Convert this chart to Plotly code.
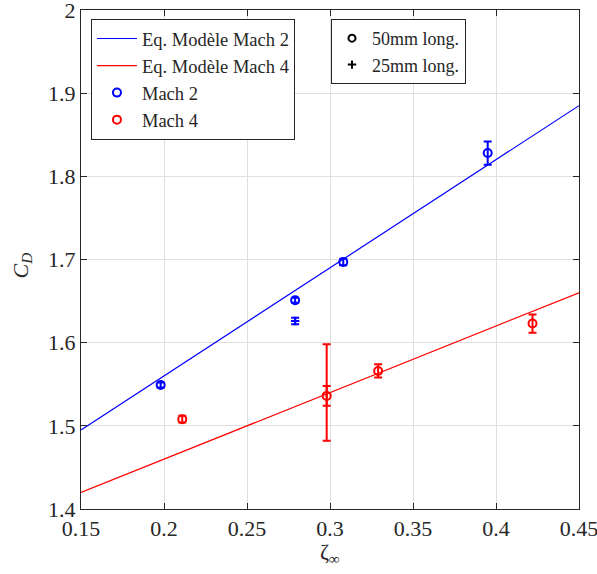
import plotly.graph_objects as go

# Model lines
line_x = [0.15, 0.45]
model_m2 = [1.495, 1.885]
model_m4 = [1.420, 1.660]

# Mach 2 data (50mm long.)
m2_x = [0.198, 0.279, 0.308, 0.395]
m2_y = [1.549, 1.651, 1.697, 1.828]
m2_err = [0.003, 0.003, 0.004, 0.014]
# Mach 2 data (25mm long.)
m2b_x = [0.279]
m2b_y = [1.626]
m2b_err = [0.004]

# Mach 4 data (50mm long.)
m4_x = [0.211, 0.298, 0.329, 0.422]
m4_y = [1.508, 1.536, 1.566, 1.623]
m4_err = [0.004, 0.012, 0.008, 0.011]
# Mach 4 additional large-error point at same location
m4b_x = [0.298]
m4b_y = [1.540]
m4b_err = [0.058]

x_ticks = [0.15, 0.2, 0.25, 0.3, 0.35, 0.4, 0.45]
y_ticks = [1.4, 1.5, 1.6, 1.7, 1.8, 1.9, 2.0]

BLUE = "#0000ff"
RED = "#ff0000"
FONT = "Liberation Serif"
INK = "#262626"

fig = go.Figure()
fig.add_trace(go.Scatter(x=line_x, y=model_m2, mode="lines", line=dict(color=BLUE, width=1.2),
                         name="Eq. Modèle Mach 2", legend="legend"))
fig.add_trace(go.Scatter(x=line_x, y=model_m4, mode="lines", line=dict(color=RED, width=1.2),
                         name="Eq. Modèle Mach 4", legend="legend"))
fig.add_trace(go.Scatter(x=m4b_x, y=m4b_y, mode="markers",
                         marker=dict(symbol="circle-open", size=1, color=RED),
                         error_y=dict(type="data", array=m4b_err, color=RED, thickness=2, width=4),
                         showlegend=False))
fig.add_trace(go.Scatter(x=m2_x, y=m2_y, mode="markers",
                         marker=dict(symbol="circle-open", size=8, color=BLUE, line=dict(width=2)),
                         error_y=dict(type="data", array=m2_err, color=BLUE, thickness=2, width=4),
                         name="Mach 2", legend="legend"))
fig.add_trace(go.Scatter(x=m2b_x, y=m2b_y, mode="markers",
                         marker=dict(symbol="cross-thin-open", size=6, color=BLUE, line=dict(width=2, color=BLUE)),
                         error_y=dict(type="data", array=m2b_err, color=BLUE, thickness=2, width=4),
                         showlegend=False))
fig.add_trace(go.Scatter(x=m4_x, y=m4_y, mode="markers",
                         marker=dict(symbol="circle-open", size=8, color=RED, line=dict(width=2)),
                         error_y=dict(type="data", array=m4_err, color=RED, thickness=2, width=4),
                         name="Mach 4", legend="legend"))
# Second legend: marker shapes
fig.add_trace(go.Scatter(x=[None], y=[None], mode="markers",
                         marker=dict(symbol="circle-open", size=7, color="black", line=dict(width=2)),
                         name="50mm long.", legend="legend2"))
fig.add_trace(go.Scatter(x=[None], y=[None], mode="markers",
                         marker=dict(symbol="cross-thin-open", size=6, color="black", line=dict(width=2, color="black")),
                         name="25mm long.", legend="legend2"))

fig.update_layout(
    width=597, height=574,
    margin=dict(l=81, r=18, t=10, b=65),
    paper_bgcolor="white", plot_bgcolor="white",
    font=dict(family=FONT, color=INK, size=19),
    legend=dict(x=0.02, y=0.982, xanchor="left", yanchor="top", bgcolor="white",
                bordercolor=INK, borderwidth=1, font=dict(family=FONT, size=18.5, color=INK),
                tracegroupgap=0, itemwidth=40),
    legend2=dict(x=0.502, y=0.982, xanchor="left", yanchor="top", bgcolor="white",
                 bordercolor=INK, borderwidth=1, font=dict(family=FONT, size=18, color=INK),
                 itemwidth=30),
    annotations=[
        dict(text="ζ<sub>∞</sub>", xref="paper", yref="paper", x=0.5, y=0,
             xanchor="center", yanchor="middle", yshift=-44, showarrow=False,
             font=dict(family=FONT, size=22, color=INK)),
        dict(text="<i>C<sub>D</sub></i>", xref="paper", yref="paper", x=0, y=0.5,
             xanchor="center", yanchor="middle", xshift=-60, yshift=-6, textangle=-90,
             showarrow=False, font=dict(family=FONT, size=22, color=INK)),
    ],
)
for upd, ticks in ((fig.update_xaxes, x_ticks), (fig.update_yaxes, y_ticks)):
    upd(range=[ticks[0], ticks[-1]], tickmode="array", tickvals=ticks,
        ticktext=[f"{v:g}" for v in ticks], automargin=False, ticklabeloverflow="allow",
        showline=True, linecolor=INK, linewidth=1, mirror="ticks",
        ticks="inside", ticklen=6, tickcolor=INK,
        showgrid=True, gridcolor="#dfdfdf", gridwidth=1, zeroline=False,
        tickfont_family=FONT, tickfont_size=22, tickfont_color=INK)

fig.write_html("out.html", config={"displayModeBar": False},
               post_script="document.body.style.margin='0px';")
